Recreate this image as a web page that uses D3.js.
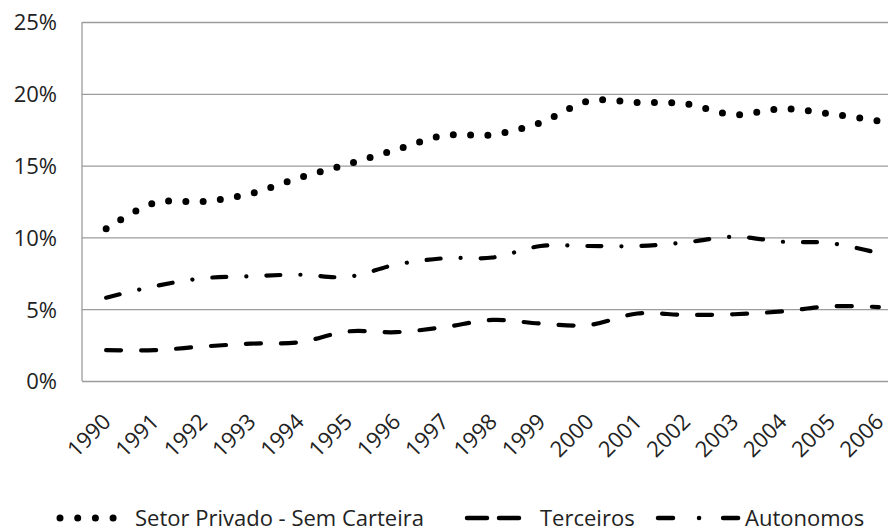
<!DOCTYPE html>
<html>
<head>
<meta charset="utf-8">
<script src="https://cdn.jsdelivr.net/npm/d3@7"></script>
<style>
  html, body { margin: 0; padding: 0; background: #fff; }
  svg { display: block; font-family: "Open Sans", "Noto Sans", sans-serif; }
</style>
</head>
<body>
<svg id="chart" width="888" height="531"></svg>
<script>
const years = ["1990","1991","1992","1993","1994","1995","1996","1997","1998","1999","2000","2001","2002","2003","2004","2005","2006"];
const setorPrivado = [10.6, 12.4, 12.5, 13.05, 14.15, 15.1, 16.1, 17.1, 17.15, 18.0, 19.5, 19.4, 19.3, 18.55, 18.95, 18.6, 18.1];
const terceiros = [2.15, 2.15, 2.4, 2.6, 2.7, 3.45, 3.4, 3.75, 4.25, 4.0, 3.9, 4.7, 4.6, 4.65, 4.85, 5.2, 5.15];
const autonomos = [5.8, 6.6, 7.15, 7.3, 7.4, 7.25, 8.1, 8.55, 8.6, 9.4, 9.4, 9.4, 9.65, 10.05, 9.7, 9.6, 8.9];
const yTicks = [0, 5, 10, 15, 20, 25];
const seriesNames = ["Setor Privado - Sem Carteira", "Terceiros", "Autonomos"];

const svg = d3.select("#chart");
const mLeft = 82, mRight = 903, mTop = 22, mBottom = 381;

const x = d3.scaleBand().domain(years).range([mLeft, mRight]).padding(0);
const xc = d => x(d) + x.bandwidth() / 2;
const y = d3.scaleLinear().domain([0, 25]).range([mBottom, mTop]);

// gridlines
const yAxis = d3.axisLeft(y).tickValues(yTicks).tickSize(-(mRight - mLeft)).tickFormat(d => d + "%").tickPadding(25);
const gy = svg.append("g").attr("transform", `translate(${mLeft},0)`).call(yAxis);
gy.select(".domain").remove();
gy.selectAll(".tick line").attr("stroke", "#9c9c9c").attr("stroke-width", 1.3);
gy.selectAll(".tick text").attr("font-size", 22).attr("fill", "#222")
  .attr("font-family", "'Open Sans', sans-serif").attr("dy", "0.36em");

// left axis line
svg.append("line").attr("x1", mLeft).attr("x2", mLeft).attr("y1", mTop).attr("y2", mBottom)
  .attr("stroke", "#9c9c9c").attr("stroke-width", 1.3);

// x axis labels
const xAxis = d3.axisBottom(x).tickSize(0).tickPadding(0);
const gx = svg.append("g").attr("transform", `translate(0,${mBottom})`).call(xAxis);
gx.select(".domain").remove();
gx.selectAll(".tick text")
  .attr("font-size", 22).attr("fill", "#222").attr("font-family", "'Open Sans', sans-serif")
  .attr("text-anchor", "end").attr("dy", null).attr("y", null)
  .attr("transform", "translate(6,42) rotate(-45)");

// lines
const line = d3.line().x((d, i) => xc(years[i])).y(d => y(d)).curve(d3.curveCardinal.tension(0));

svg.append("path").datum(setorPrivado).attr("d", line)
  .attr("fill", "none").attr("stroke", "#000").attr("stroke-width", 7)
  .attr("stroke-linecap", "round").attr("stroke-dasharray", "0,17.3");

svg.append("path").datum(terceiros).attr("d", line)
  .attr("fill", "none").attr("stroke", "#000").attr("stroke-width", 4.2)
  .attr("stroke-linecap", "round").attr("stroke-dasharray", "15,20");

svg.append("path").datum(autonomos).attr("d", line)
  .attr("fill", "none").attr("stroke", "#000").attr("stroke-width", 4.2)
  .attr("stroke-linecap", "round").attr("stroke-dasharray", "14,20,0.1,20");

// legend
const ly = 518;
const lg = svg.append("g");
lg.append("line").attr("x1", 60).attr("x2", 113.3).attr("y1", ly).attr("y2", ly)
  .attr("stroke", "#000").attr("stroke-width", 7).attr("stroke-linecap", "round")
  .attr("stroke-dasharray", "0,17.7");
lg.append("text").attr("x", 135).attr("y", 526).text(seriesNames[0]);

lg.append("line").attr("x1", 467).attr("x2", 520).attr("y1", ly).attr("y2", ly)
  .attr("stroke", "#000").attr("stroke-width", 4.5).attr("stroke-linecap", "round")
  .attr("stroke-dasharray", "20,12");
lg.append("text").attr("x", 540).attr("y", 526).text(seriesNames[1]);

lg.append("line").attr("x1", 658).attr("x2", 741).attr("y1", ly).attr("y2", ly)
  .attr("stroke", "#000").attr("stroke-width", 4.5).attr("stroke-linecap", "round")
  .attr("stroke-dasharray", "15,26,0.1,24");
lg.append("text").attr("x", 745).attr("y", 526).text(seriesNames[2]);

lg.selectAll("text").attr("font-size", 22).attr("fill", "#222");
</script>
</body>
</html>
